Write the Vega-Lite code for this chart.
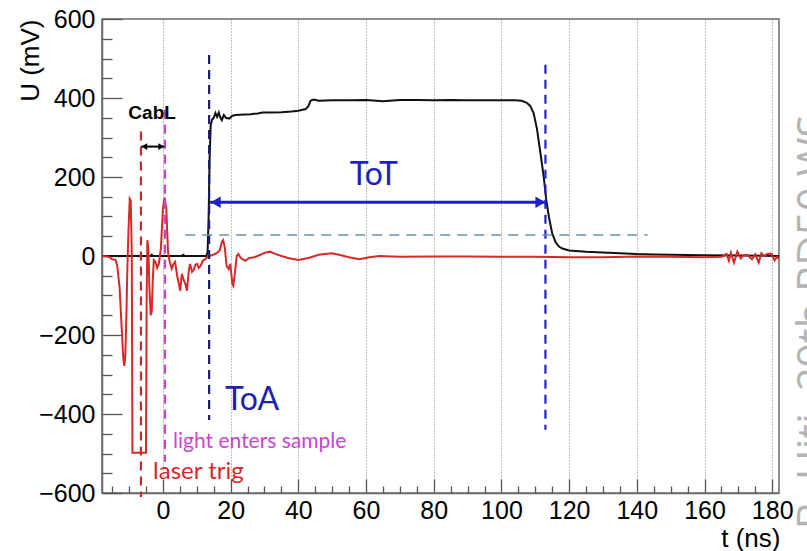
{
  "$schema": "https://vega.github.io/schema/vega-lite/v6.json",
  "width": 677,
  "height": 474,
  "autosize": {"type": "none"},
  "padding": {"left": 102, "top": 19, "right": 28, "bottom": 58},
  "background": "white",
  "config": {"view": {"stroke": "#6a6a6a", "strokeWidth": 1.5}, "font": "Liberation Sans"},
  "datasets": {
    "black": [
      {"t": -18, "U": 0}, {"t": -10, "U": 0}, {"t": -3.6, "U": 0}, {"t": -3.3, "U": 3}, {"t": -3.0, "U": 0},
      {"t": 5.5, "U": 0}, {"t": 6, "U": 3}, {"t": 6.5, "U": 0}, {"t": 12.8, "U": 0}, {"t": 13.2, "U": 10},
      {"t": 13.5, "U": 100}, {"t": 13.8, "U": 250}, {"t": 14.1, "U": 330}, {"t": 14.5, "U": 345},
      {"t": 15.0, "U": 350}, {"t": 15.5, "U": 362}, {"t": 16.0, "U": 352}, {"t": 16.5, "U": 363},
      {"t": 17.0, "U": 350}, {"t": 17.4, "U": 344}, {"t": 18.0, "U": 357}, {"t": 18.6, "U": 350},
      {"t": 19.6, "U": 348}, {"t": 20.5, "U": 355}, {"t": 21.6, "U": 357}, {"t": 24, "U": 358},
      {"t": 26, "U": 359}, {"t": 28, "U": 361}, {"t": 29.4, "U": 363}, {"t": 32, "U": 363},
      {"t": 35, "U": 364}, {"t": 38, "U": 366}, {"t": 40, "U": 368}, {"t": 42.2, "U": 372},
      {"t": 43.0, "U": 380}, {"t": 43.6, "U": 393}, {"t": 44.5, "U": 396}, {"t": 46, "U": 393},
      {"t": 50, "U": 394}, {"t": 55, "U": 394}, {"t": 60, "U": 395}, {"t": 65, "U": 392},
      {"t": 70, "U": 395}, {"t": 75, "U": 395}, {"t": 80, "U": 394}, {"t": 85, "U": 395},
      {"t": 90, "U": 394}, {"t": 95, "U": 394}, {"t": 100, "U": 394}, {"t": 104, "U": 394},
      {"t": 106, "U": 393}, {"t": 107.5, "U": 388}, {"t": 108.5, "U": 380}, {"t": 109.5, "U": 362},
      {"t": 110.5, "U": 322}, {"t": 111.5, "U": 262}, {"t": 112.5, "U": 200}, {"t": 113.2, "U": 145},
      {"t": 114, "U": 100}, {"t": 115, "U": 57}, {"t": 116, "U": 35}, {"t": 117, "U": 24},
      {"t": 118, "U": 19}, {"t": 120, "U": 14}, {"t": 125, "U": 11}, {"t": 130, "U": 9},
      {"t": 135, "U": 7}, {"t": 140, "U": 5}, {"t": 145, "U": 4}, {"t": 150, "U": 3},
      {"t": 160, "U": 2}, {"t": 170, "U": 1}, {"t": 182, "U": 0}
    ],
    "red": [
      {"t": -18, "U": 0}, {"t": -16, "U": -2}, {"t": -15, "U": -8}, {"t": -14, "U": -10},
      {"t": -13.5, "U": -25}, {"t": -12.8, "U": -80}, {"t": -12.2, "U": -180}, {"t": -11.7, "U": -260},
      {"t": -11.4, "U": -278}, {"t": -11.1, "U": -250}, {"t": -10.8, "U": -150}, {"t": -10.5, "U": -30},
      {"t": -10.2, "U": 60}, {"t": -9.8, "U": 145}, {"t": -9.5, "U": 140}, {"t": -9.2, "U": 0},
      {"t": -9.0, "U": -498}, {"t": -5.0, "U": -498}, {"t": -4.8, "U": -100}, {"t": -4.6, "U": 40},
      {"t": -4.3, "U": 20}, {"t": -4.0, "U": -80}, {"t": -3.6, "U": -150}, {"t": -3.3, "U": -140},
      {"t": -3.0, "U": -60}, {"t": -2.7, "U": -10}, {"t": -2.2, "U": -15}, {"t": -1.7, "U": -30},
      {"t": -1.2, "U": -20}, {"t": -0.6, "U": 20}, {"t": 0.0, "U": 120}, {"t": 0.5, "U": 148},
      {"t": 1.0, "U": 120}, {"t": 1.5, "U": 10}, {"t": 2.0, "U": -15}, {"t": 2.6, "U": -32},
      {"t": 3.1, "U": -20}, {"t": 3.6, "U": -15}, {"t": 4.2, "U": -50}, {"t": 4.7, "U": -70},
      {"t": 5.1, "U": -88}, {"t": 5.6, "U": -45}, {"t": 6.1, "U": -60}, {"t": 6.6, "U": -70},
      {"t": 7.1, "U": -88}, {"t": 7.6, "U": -40}, {"t": 8.0, "U": -20}, {"t": 8.6, "U": -40},
      {"t": 9.1, "U": -35}, {"t": 9.6, "U": -22}, {"t": 10.1, "U": -20}, {"t": 10.6, "U": -30},
      {"t": 11.1, "U": -25}, {"t": 11.8, "U": -12}, {"t": 12.5, "U": -8}, {"t": 13.4, "U": 0},
      {"t": 14.5, "U": 2}, {"t": 15.9, "U": 7}, {"t": 16.8, "U": 15}, {"t": 17.4, "U": 35},
      {"t": 17.8, "U": 40}, {"t": 18.3, "U": 20}, {"t": 18.8, "U": -25}, {"t": 19.4, "U": -33},
      {"t": 19.9, "U": -20}, {"t": 20.5, "U": -70}, {"t": 20.8, "U": -75}, {"t": 21.3, "U": -40},
      {"t": 21.8, "U": 0}, {"t": 22.3, "U": 5}, {"t": 23, "U": -5}, {"t": 24.3, "U": -12},
      {"t": 25.5, "U": -5}, {"t": 27, "U": -3}, {"t": 28.5, "U": 2}, {"t": 30, "U": 8},
      {"t": 31.6, "U": 11}, {"t": 33, "U": 6}, {"t": 35, "U": 0}, {"t": 37, "U": -5},
      {"t": 40, "U": -10}, {"t": 43, "U": -5}, {"t": 46, "U": 3}, {"t": 49.8, "U": 7},
      {"t": 52, "U": 3}, {"t": 55, "U": -3}, {"t": 58, "U": -8}, {"t": 61, "U": -3},
      {"t": 64, "U": 0}, {"t": 70, "U": -2}, {"t": 80, "U": -1}, {"t": 90, "U": -1},
      {"t": 100, "U": -2}, {"t": 110, "U": -2}, {"t": 120, "U": -3}, {"t": 130, "U": -3},
      {"t": 140, "U": -1}, {"t": 150, "U": -2}, {"t": 160, "U": -3}, {"t": 165, "U": -2},
      {"t": 166.5, "U": 5}, {"t": 167.2, "U": -12}, {"t": 167.8, "U": 8}, {"t": 168.7, "U": -17},
      {"t": 169.7, "U": 11}, {"t": 170.7, "U": -6}, {"t": 171.5, "U": 2}, {"t": 172.6, "U": 3},
      {"t": 174, "U": -8}, {"t": 175, "U": 4}, {"t": 176, "U": -17}, {"t": 176.8, "U": 7},
      {"t": 177.6, "U": 0}, {"t": 178.5, "U": 5}, {"t": 179.7, "U": 6}, {"t": 180.7, "U": -11},
      {"t": 181.4, "U": -2}, {"t": 182, "U": -8}
    ],
    "markers": [
      {"label": "laser trig", "t": -6.5, "U1": 315, "U2": -610},
      {"label": "light enters sample", "t": 0.6, "U1": 370, "U2": -521},
      {"label": "ToA", "t": 13.65, "U1": 509, "U2": -415},
      {"label": "ToT end", "t": 113, "U1": 484, "U2": -440}
    ],
    "arrows": [
      {"name": "CabL", "t1": -6.4, "t2": 0.4, "U": 277},
      {"name": "ToT", "t1": 13.9, "t2": 113.2, "U": 136}
    ],
    "heads": [
      {"name": "CabL", "side": "left", "t": -5.5, "U": 277},
      {"name": "CabL", "side": "right", "t": -0.5, "U": 277},
      {"name": "ToT", "side": "left", "t": 15.6, "U": 136},
      {"name": "ToT", "side": "right", "t": 111.5, "U": 136}
    ]
  },
  "resolve": {"axis": {"x": "independent", "y": "independent"}, "scale": {"color": "independent"}},
  "layer": [
    {
      "data": {"name": "black"},
      "mark": {"type": "line", "color": "#111111", "strokeWidth": 2, "interpolate": "linear"},
      "encoding": {
        "x": {"field": "t", "type": "quantitative", "scale": {"domain": [-18, 182], "nice": false, "zero": false},
          "axis": {"orient": "bottom", "values": [0, 20, 40, 60, 80, 100, 120, 140, 160, 180], "format": "d",
            "tickSize": -14, "tickColor": "#555555", "tickWidth": 1.3, "labelFontSize": 25, "labelPadding": 19,
            "labelColor": "#000000", "labelFlush": false, "labelOverlap": false, "domainColor": "#6a6a6a", "domainWidth": 1.5,
            "grid": true, "gridDash": [1, 2], "gridColor": "#808080", "gridWidth": 1,
            "title": "t (ns)", "titleFontSize": 26, "titleFontWeight": "normal", "titleColor": "#000000",
            "titleAlign": "right", "titleBaseline": "alphabetic", "titleAnchor": "end", "titleX": 678, "titleY": 53}},
        "y": {"field": "U", "type": "quantitative", "scale": {"domain": [-600, 600], "nice": false, "zero": false},
          "axis": {"orient": "left", "values": [-600, -400, -200, 0, 200, 400, 600], "format": "d",
            "tickSize": -20, "tickColor": "#555555", "tickWidth": 1.3, "labelFontSize": 25, "labelPadding": 27,
            "labelColor": "#000000", "labelFlush": false, "labelOverlap": false, "domainColor": "#6a6a6a", "domainWidth": 1.5,
            "grid": false,
            "title": "U (mV)", "titleFontSize": 26, "titleFontWeight": "normal", "titleColor": "#000000",
            "titleAngle": 270, "titleAlign": "right", "titleBaseline": "alphabetic", "titleAnchor": "end", "titleX": -64, "titleY": 0}}
      }
    },
    {
      "data": {"name": "red"},
      "mark": {"type": "line", "color": "#d42a2a", "strokeWidth": 2},
      "encoding": {
        "x": {"field": "t", "type": "quantitative",
          "axis": {"orient": "bottom", "values": [-15, -10, -5, 5, 10, 15, 25, 30, 35, 45, 50, 55, 65, 70, 75, 85, 90, 95, 105, 110, 115, 125, 130, 135, 145, 150, 155, 165, 170, 175],
            "tickSize": -7, "tickColor": "#555555", "tickWidth": 1.3, "labels": false, "domain": false, "grid": false, "title": null}},
        "y": {"field": "U", "type": "quantitative",
          "axis": {"orient": "left", "values": [-550, -500, -450, -350, -300, -250, -150, -100, -50, 50, 100, 150, 250, 300, 350, 450, 500, 550],
            "tickSize": -10, "tickColor": "#555555", "tickWidth": 1.3, "labels": false, "domain": false, "grid": false, "title": null}}
      }
    },
    {
      "data": {"name": "markers"},
      "mark": {"type": "rule", "strokeWidth": 2.2, "strokeDash": [9, 6]},
      "encoding": {
        "x": {"field": "t", "type": "quantitative", "axis": null},
        "y": {"field": "U1", "type": "quantitative", "axis": null},
        "y2": {"field": "U2"},
        "color": {"field": "label", "type": "nominal", "legend": null,
          "scale": {"domain": ["laser trig", "light enters sample", "ToA", "ToT end"], "range": ["#cc2a2a", "#c844cc", "#1c1c66", "#2222c8"]}}
      }
    },
    {
      "data": {"values": [{"name": "threshold", "t1": 6.6, "t2": 143.2, "U": 53}]},
      "mark": {"type": "rule", "strokeWidth": 1.6, "strokeDash": [10, 7], "color": "#6a90a8"},
      "encoding": {
        "x": {"field": "t1", "type": "quantitative", "axis": null},
        "x2": {"field": "t2"},
        "y": {"field": "U", "type": "quantitative", "axis": null}
      }
    },
    {
      "data": {"name": "arrows"},
      "transform": [{"filter": "datum.name == 'ToT'"}],
      "mark": {"type": "rule", "strokeWidth": 3, "color": "#1f1fc8"},
      "encoding": {
        "x": {"field": "t1", "type": "quantitative", "axis": null},
        "x2": {"field": "t2"},
        "y": {"field": "U", "type": "quantitative", "axis": null}
      }
    },
    {
      "data": {"name": "arrows"},
      "transform": [{"filter": "datum.name == 'CabL'"}],
      "mark": {"type": "rule", "strokeWidth": 2, "color": "#000000"},
      "encoding": {
        "x": {"field": "t1", "type": "quantitative", "axis": null},
        "x2": {"field": "t2"},
        "y": {"field": "U", "type": "quantitative", "axis": null}
      }
    },
    {
      "data": {"name": "heads"},
      "mark": {"type": "point", "filled": true, "opacity": 1, "strokeWidth": 0},
      "encoding": {
        "x": {"field": "t", "type": "quantitative", "axis": null},
        "y": {"field": "U", "type": "quantitative", "axis": null},
        "shape": {"field": "side", "type": "nominal", "legend": null, "scale": {"domain": ["left", "right"], "range": ["triangle-left", "triangle-right"]}},
        "size": {"field": "name", "type": "nominal", "legend": null, "scale": {"domain": ["CabL", "ToT"], "range": [45, 130]}},
        "color": {"field": "name", "type": "nominal", "legend": null, "scale": {"domain": ["CabL", "ToT"], "range": ["#000000", "#1f1fc8"]}}
      }
    },
    {
      "data": {"values": [{"text": "CabL", "t": -3.2, "U": 347}]},
      "mark": {"type": "text", "font": "Liberation Sans", "fontWeight": "bold", "fontSize": 19, "align": "center", "baseline": "alphabetic", "color": "#000000"},
      "encoding": {
        "x": {"field": "t", "type": "quantitative", "axis": null},
        "y": {"field": "U", "type": "quantitative", "axis": null},
        "text": {"field": "text"}
      }
    },
    {
      "data": {"values": [{"text": "ToT", "t": 62.3, "U": 205}]},
      "mark": {"type": "text", "font": "Lato", "fontSize": 32, "align": "center", "baseline": "middle", "color": "#1f1fc8"},
      "encoding": {
        "x": {"field": "t", "type": "quantitative", "axis": null},
        "y": {"field": "U", "type": "quantitative", "axis": null},
        "text": {"field": "text"}
      }
    },
    {
      "data": {"values": [{"text": "ToA", "t": 18.3, "U": -365}]},
      "mark": {"type": "text", "font": "Lato", "fontSize": 32, "align": "left", "baseline": "middle", "color": "#1f1fb0"},
      "encoding": {
        "x": {"field": "t", "type": "quantitative", "axis": null},
        "y": {"field": "U", "type": "quantitative", "axis": null},
        "text": {"field": "text"}
      }
    },
    {
      "data": {"values": [{"text": "light enters sample", "t": 3.0, "U": -486}]},
      "mark": {"type": "text", "font": "Lato", "fontSize": 21, "align": "left", "baseline": "alphabetic", "color": "#c844d0"},
      "encoding": {
        "x": {"field": "t", "type": "quantitative", "axis": null},
        "y": {"field": "U", "type": "quantitative", "axis": null},
        "text": {"field": "text"}
      }
    },
    {
      "data": {"values": [{"text": "laser trig", "t": -2.9, "U": -565}]},
      "mark": {"type": "text", "font": "Lato", "fontSize": 24, "align": "left", "baseline": "alphabetic", "color": "#d42a2a"},
      "encoding": {
        "x": {"field": "t", "type": "quantitative", "axis": null},
        "y": {"field": "U", "type": "quantitative", "axis": null},
        "text": {"field": "text"}
      }
    },
    {
      "data": {"values": [{"text": "B. Hiti, 29th RD50 WS", "t": 186.3, "U": -167}]},
      "mark": {"type": "text", "font": "Open Sans", "fontSize": 42, "angle": 270, "align": "center", "baseline": "top", "color": "#b4b4b4"},
      "encoding": {
        "x": {"field": "t", "type": "quantitative", "axis": null},
        "y": {"field": "U", "type": "quantitative", "axis": null},
        "text": {"field": "text"}
      }
    }
  ]
}
